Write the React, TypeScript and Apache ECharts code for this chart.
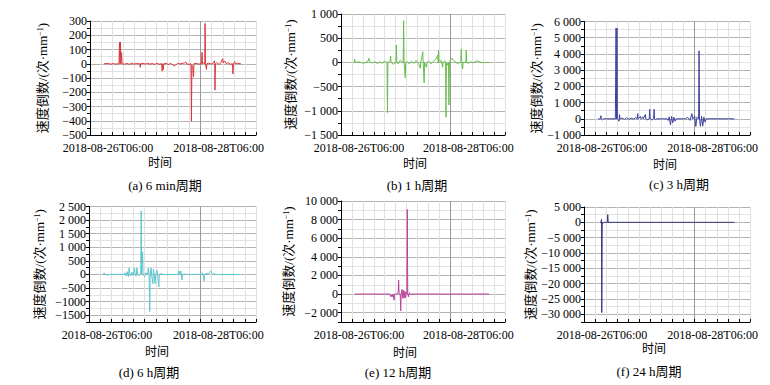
import React, { useEffect, useRef } from "react";
import * as echarts from "echarts";

// ---- x axis (hours after 2018-08-26T06:00) ----
const xTickValues = [0, 48];
const xTickLabels = ["2018-08-26T06:00", "2018-08-28T06:00"];
const xName = "时间";
const yName = "速度倒数/(次·mm{sup|−1})";
const captions = ["(a) 6 min周期", "(b) 1 h周期", "(c) 3 h周期", "(d) 6 h周期", "(e) 12 h周期", "(f) 24 h周期"];

// ---- y ticks per panel ----
const yTicksA = [300, 200, 100, 0, -100, -200, -300, -400, -500];
const yLabelsA = ["300", "200", "100", "0", "−100", "−200", "−300", "−400", "−500"];
const yTicksB = [1000, 500, 0, -500, -1000, -1500];
const yLabelsB = ["1 000", "500", "0", "−500", "−1 000", "−1 500"];
const yTicksC = [6000, 5000, 4000, 3000, 2000, 1000, 0, -1000];
const yLabelsC = ["6 000", "5 000", "4 000", "3 000", "2 000", "1 000", "0", "−1 000"];
const yTicksD = [2500, 2000, 1500, 1000, 500, 0, -500, -1000, -1500];
const yLabelsD = ["2 500", "2 000", "1 500", "1 000", "500", "0", "−500", "−1000", "−1500"];
const yTicksE = [10000, 8000, 6000, 4000, 2000, 0, -2000];
const yLabelsE = ["10 000", "8 000", "6 000", "4 000", "2 000", "0", "−2 000"];
const yTicksF = [5000, 0, -5000, -10000, -15000, -20000, -25000, -30000];
const yLabelsF = ["5 000", "0", "−5 000", "−10 000", "−15 000", "−20 000", "−25 000", "−30 000"];

// ---- series values [hour, value] ----
const dataA = [[6.1,0],[8,2],[9,-3],[10,1],[11,-2],[12.6,0],[12.8,150],[13.0,2],[13.2,152],[13.4,0],[13.7,78],[13.9,0],[15,-3],[16,2],[17,-4],[18,3],[19,-2],[20,1],[21.6,0],[21.8,-25],[22,0],[23,3],[24,-2],[25,4],[26,-3],[27,2],[28,-4],[29,2],[30,-3],[31.1,0],[31.3,-52],[31.5,0],[31.8,-40],[32,0],[33,3],[34,-5],[35,2],[36,-8],[36.5,-15],[37,-12],[37.5,-3],[38,4],[39,-2],[40,3],[41,5],[41.5,12],[42,-2],[43,-4],[43.8,0],[44,-402],[44.2,-10],[44.6,-20],[44.9,-91],[45.1,0],[46,3],[47,-2],[48.4,0],[48.6,80],[48.8,0],[49.3,5],[49.8,0],[49.9,283],[50.1,0],[50.5,-40],[50.7,0],[51.5,4],[52.5,-3],[53.5,5],[54.0,21],[54.1,0],[54.2,-185],[54.4,0],[55,8],[56,-5],[57,12],[57.5,35],[57.8,5],[58.3,20],[59,3],[60,6],[61,-4],[61.8,0],[62,-72],[62.2,0],[62.8,15],[63,0],[64,3],[65.4,0]];
const dataB = [[5.4,0],[5.8,0],[6,64],[6.2,0],[8,10],[10,-20],[12,30],[12.2,85],[12.6,20],[13,0],[14,-10],[15,15],[16,-25],[17,10],[18,-15],[19,20],[20.2,0],[20.4,-1040],[20.6,0],[21.5,30],[21.8,132],[22,0],[23,-40],[24.1,0],[24.3,360],[24.5,0],[25,-30],[26,40],[27.3,0],[27.5,862],[27.7,0],[28.2,-316],[28.4,0],[29,20],[30,-30],[31,25],[32,-20],[33,40],[34,-20],[34.8,-122],[35,0],[35.9,221],[36.1,0],[36.5,-420],[36.7,0],[37.5,-100],[37.8,0],[38.5,30],[39.5,-30],[40.5,20],[41.5,60],[42.5,150],[42.7,0],[42.8,256],[43,0],[44,40],[44.6,-100],[44.8,0],[45.5,30],[45.9,0],[46.1,-1135],[46.3,0],[46.9,-60],[47.2,0],[47.4,-880],[47.6,0],[48.2,60],[48.8,85],[49.4,40],[50,20],[51,-20],[52.6,0],[52.8,277],[53,0],[53.4,-136],[53.6,0],[54.8,0],[55,256],[55.2,0],[56,-20],[57,15],[58,-10],[59,20],[60,30],[61,10],[62,-5],[65,0]];
const dataC = [[6.2,0],[7.1,0],[7.3,190],[7.5,0],[8,-60],[8.5,0],[13.6,0],[13.9,5590],[14.1,0],[14.3,5590],[14.5,0],[15.2,-150],[15.4,260],[15.6,0],[16.5,50],[17.5,-40],[18.5,60],[19.5,-30],[20.5,40],[21.5,-20],[22.5,80],[23.1,0],[23.3,320],[23.5,0],[24.5,150],[24.7,0],[25.5,120],[25.7,0],[26.6,260],[26.8,0],[27.5,-60],[28.3,0],[28.5,590],[28.7,0],[29.5,-80],[30.2,0],[30.4,590],[30.6,0],[31,-50],[31.5,0],[36,0],[36.5,-100],[37,120],[37.5,-380],[38,150],[38.5,-250],[39,100],[39.5,-150],[40,0],[44,0],[45,80],[46,-100],[46.8,320],[47.2,0],[48,150],[48.5,-470],[49,100],[49.7,0],[49.9,4190],[50.1,0],[50.5,-470],[51,150],[51.5,-450],[52,100],[52.5,-200],[53,0],[55,0],[65.2,0]];
const dataD = [[6.2,0],[6.5,60],[6.8,0],[8,-20],[9,0],[15,0],[15.5,60],[16,-60],[16.5,100],[17,-80],[17.3,245],[17.6,0],[18,-50],[18.5,80],[19,-40],[19.6,245],[19.9,0],[20.3,-60],[20.7,245],[21,0],[21.5,-40],[22.3,0],[22.5,2340],[22.7,0],[23.1,830],[23.3,0],[24,-80],[24.5,60],[25.2,0],[25.6,245],[25.9,0],[26.2,-1365],[26.4,0],[26.8,245],[27,0],[27.5,-340],[27.8,200],[28.1,0],[28.5,-340],[28.8,0],[29.3,150],[29.6,0],[30.1,-450],[30.3,0],[31,30],[32,0],[38.5,0],[38.8,130],[39.1,0],[39.6,130],[39.8,0],[40.1,-200],[40.3,0],[41,20],[42,0],[48.5,0],[49,60],[49.6,-245],[49.8,0],[50.5,40],[51.5,20],[52.5,130],[52.8,100],[53.1,0],[54,20],[55,0],[65,0]];
const dataE = [[6.1,0],[21.5,0],[21.9,-290],[22.2,-100],[22.5,-290],[22.8,0],[23.1,0],[23.3,-650],[23.5,0],[24.5,0],[25.1,200],[25.3,1520],[25.5,0],[26,0],[26.2,-1810],[26.4,0],[26.8,500],[27.1,-450],[27.4,400],[27.7,-450],[28,300],[28.3,-400],[28.6,200],[28.9,0],[29.1,9100],[29.3,0],[29.6,-300],[30,150],[30.4,-100],[30.8,0],[65,0]];
const dataF = [[7,0],[7.4,0],[7.6,1000],[7.7,-29400],[7.9,0],[8.1,-400],[8.6,0],[9.2,0],[10.1,0],[10.3,2500],[10.5,0],[65.2,0]];

const FONT = "'Liberation Serif', 'Times New Roman', 'Noto Sans CJK SC', serif";

const panels = [
  { data: dataA, color: "#d9363a", ticks: yTicksA, labels: yLabelsA, min: -500, max: 300, step: 100, grid: { left: 90, top: 21, width: 166, height: 114 }, gap: 41, cap: [165, 185], xn: [160, 163] },
  { data: dataB, color: "#66c04a", ticks: yTicksB, labels: yLabelsB, min: -1500, max: 1000, step: 500, grid: { left: 341, top: 14, width: 164, height: 121 }, gap: 44, cap: [417, 185], xn: [415, 164] },
  { data: dataC, color: "#3f43a0", ticks: yTicksC, labels: yLabelsC, min: -1000, max: 6000, step: 1000, grid: { left: 584, top: 21.5, width: 166, height: 113.5 }, gap: 41, cap: [679, 184], xn: [665, 165] },
  { data: dataD, color: "#5ec6cf", ticks: yTicksD, labels: yLabelsD, min: -1750, max: 2500, step: 500, grid: { left: 89, top: 206.5, width: 167, height: 115.5 }, gap: 43, cap: [149, 372], xn: [157, 352] },
  { data: dataE, color: "#bb3f9c", ticks: yTicksE, labels: yLabelsE, min: -3000, max: 10000, step: 2000, grid: { left: 341, top: 201, width: 164, height: 121 }, gap: 46, cap: [398, 372], xn: [405, 353] },
  { data: dataF, color: "#34357e", ticks: yTicksF, labels: yLabelsF, min: -32500, max: 5000, step: 5000, grid: { left: 584, top: 207, width: 166, height: 115 }, gap: 47, cap: [649, 371], xn: [654, 349] },
];

const MAJOR = "#b3b3b3";
const MINOR = "#e3e3e3";
const VMINOR = "#e0e0e0";
const VMAJOR = "#999999";

export default function App() {
  const ref = useRef<HTMLDivElement>(null);
  useEffect(() => {
    if (!ref.current) return;
    const chart = echarts.init(ref.current, undefined, { renderer: "svg" });
    const grids: any[] = [];
    const xAxes: any[] = [];
    const yAxes: any[] = [];
    const series: any[] = [];
    const graphics: any[] = [];
    panels.forEach((p, i) => {
      grids.push({ ...p.grid, containLabel: false });
      const vColors = [VMINOR, VMINOR, VMINOR, VMINOR, VMINOR, VMINOR, VMINOR, VMINOR, VMINOR, VMINOR, VMAJOR];
      xAxes.push({
        type: "value",
        gridIndex: i,
        min: 0,
        max: 72,
        interval: 4.8,
        axisLine: { show: true, onZero: false, lineStyle: { color: "#000", width: 1 } },
        axisTick: { show: true, inside: true, length: 3, lineStyle: { color: "#000", width: 1 } },
        axisLabel: {
          color: "#000",
          fontSize: 12,
          fontFamily: FONT,
          margin: 7,
          padding: [0, 0, 0, 36],
          formatter: (v: number) => {
            const k = xTickValues.findIndex((t) => Math.abs(t - v) < 1e-6);
            return k >= 0 ? xTickLabels[k] : "";
          },
        },
        splitLine: { show: true, lineStyle: { color: vColors, width: 1 } },
      });
      const majorFirst = Math.abs(p.min % p.step) < 1e-9;
      yAxes.push({
        type: "value",
        gridIndex: i,
        min: p.min,
        max: p.max,
        interval: p.step / 2,
        axisLine: { show: true, onZero: false, lineStyle: { color: "#000", width: 1 } },
        axisTick: { show: true, inside: false, length: 3, lineStyle: { color: "#000", width: 1 } },
        axisLabel: {
          color: "#000",
          fontSize: 12,
          fontFamily: FONT,
          margin: 3,
          formatter: (v: number) => {
            const k = p.ticks.findIndex((t) => Math.abs(t - v) < 1e-6);
            return k >= 0 ? p.labels[k] : "";
          },
        },
        splitLine: { show: true, lineStyle: { color: majorFirst ? [MAJOR, MINOR] : [MINOR, MAJOR], width: 1 } },
        name: yName,
        nameLocation: "middle",
        nameRotate: 90,
        nameGap: p.gap,
        nameTextStyle: {
          color: "#000",
          fontSize: 13,
          fontFamily: FONT,
          rich: { sup: { fontSize: 8, fontFamily: FONT, color: "#000", verticalAlign: "top", lineHeight: 8 } },
        },
      });
      series.push({
        type: "line",
        xAxisIndex: i,
        yAxisIndex: i,
        data: p.data,
        showSymbol: false,
        symbol: "none",
        lineStyle: { color: p.color, width: 1 },
        itemStyle: { color: p.color },
        silent: true,
      });
      graphics.push({
        type: "text",
        x: p.xn[0],
        y: p.xn[1],
        style: { text: xName, fill: "#000", font: `12px ${FONT}`, align: "center", verticalAlign: "middle", textAlign: "center", textVerticalAlign: "middle" },
      });
      graphics.push({
        type: "text",
        x: p.cap[0],
        y: p.cap[1],
        style: { text: captions[i], fill: "#000", font: `13px ${FONT}`, align: "center", verticalAlign: "middle", textAlign: "center", textVerticalAlign: "middle" },
      });
    });
    chart.setOption({
      animation: false,
      backgroundColor: "#ffffff",
      grid: grids,
      xAxis: xAxes,
      yAxis: yAxes,
      series,
      graphic: { elements: graphics },
    });
    return () => chart.dispose();
  }, []);
  return <div ref={ref} style={{ position: "fixed", left: 0, top: 0, width: 770, height: 385, background: "#fff" }} />;
}
